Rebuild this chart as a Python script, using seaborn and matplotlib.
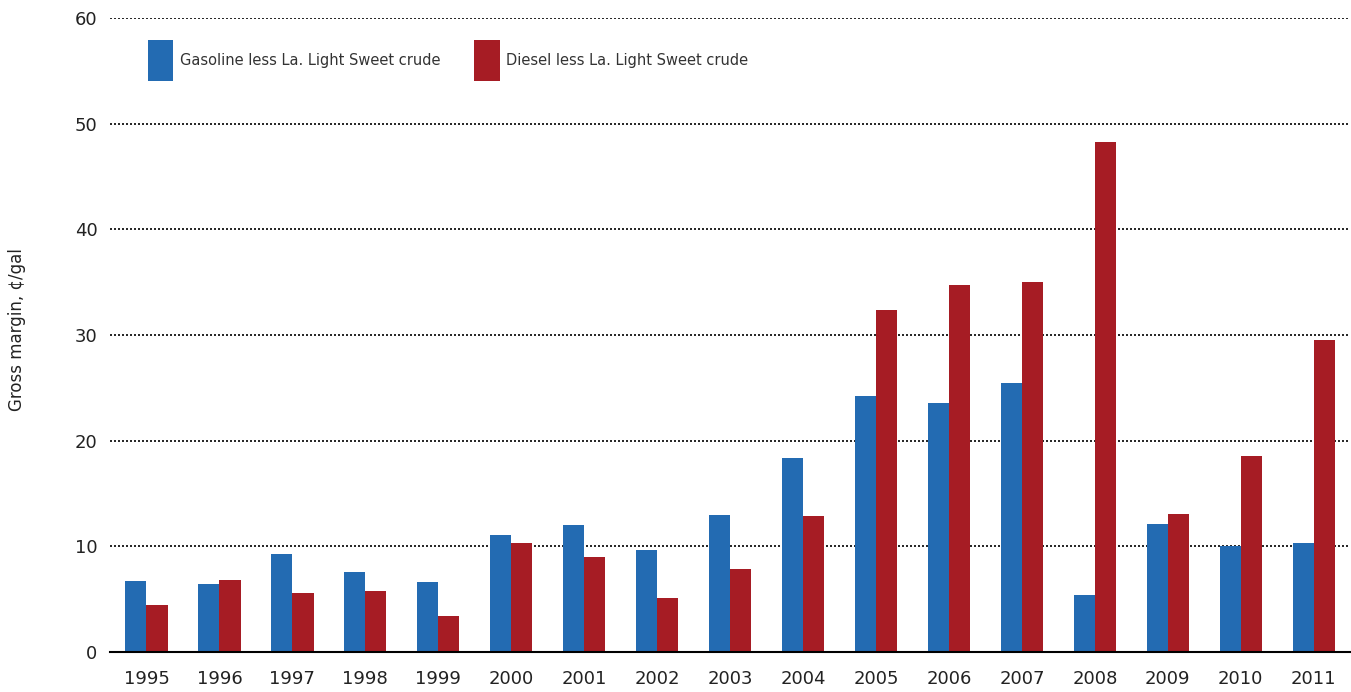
import pandas as pd
import matplotlib.pyplot as plt
import seaborn as sns
import numpy as np

# --- data ---
years = [str(y) for y in range(1995, 2012)]
gasoline = [6.7, 6.4, 9.3, 7.6, 6.6, 11.1, 12.0, 9.65, 13.0, 18.35,
            24.2, 23.6, 25.5, 5.4, 12.1, 10.0, 10.3]
diesel = [4.45, 6.8, 5.6, 5.8, 3.4, 10.3, 9.0, 5.1, 7.85, 12.9,
          32.4, 34.7, 35.0, 48.25, 13.05, 18.6, 29.5]
series_names = ['Gasoline less La. Light Sweet crude',
                'Diesel less La. Light Sweet crude']
colors = ['#236BB2', '#A61C24']

df = pd.DataFrame({
    'Year': years * 2,
    'Margin': gasoline + diesel,
    'Series': [series_names[0]] * len(years) + [series_names[1]] * len(years),
})

sns.set_style('white')
plt.rcParams['font.family'] = ['DejaVu Sans']

fig = plt.figure(figsize=(13.51, 6.92), dpi=100)
ax = fig.add_axes([0.0814, 0.0578, 0.918, 0.916])

sns.barplot(data=df, x='Year', y='Margin', hue='Series', palette=colors,
            width=0.58, saturation=1, ax=ax, edgecolor='none')

# axes
ax.set_ylim(0, 60)
ax.set_xlim(-0.5, len(years) - 0.5)
ax.set_yticks(np.arange(0, 61, 10))
ax.yaxis.grid(True, linestyle=(0, (1.2, 1.2)), color='black', linewidth=1.2)
ax.set_axisbelow(True)
for s in ['top', 'right', 'left']:
    ax.spines[s].set_visible(False)
ax.spines['bottom'].set_color('black')
ax.spines['bottom'].set_linewidth(1.5)

ax.tick_params(axis='y', length=0, labelsize=13, pad=9, labelcolor='#222222')
ax.tick_params(axis='x', which='major', length=0, labelsize=13, pad=13,
               labelcolor='#222222')
ax.set_xticks(np.arange(-0.5, len(years), 1), minor=True)
ax.tick_params(axis='x', which='minor', length=6, color='#999999', width=1)

ax.set_xlabel('')
ax.set_ylabel('')
fig.text(0.0126, 1 - 330 / 692, 'Gross margin, ¢/gal', rotation=90,
         fontsize=12, ha='center', va='center', color='#222222')

# legend
handles, labels = ax.get_legend_handles_labels()
leg = ax.legend(handles, labels, loc='upper left',
                bbox_to_anchor=(0.0306, 0.965), ncol=2, frameon=False,
                fontsize=10.5, borderpad=0, borderaxespad=0,
                handlelength=1.75, handleheight=3.9, handletextpad=0.45,
                columnspacing=2.3)
for t in leg.get_texts():
    t.set_color('#333333')

fig.savefig('out.png', dpi=100)
